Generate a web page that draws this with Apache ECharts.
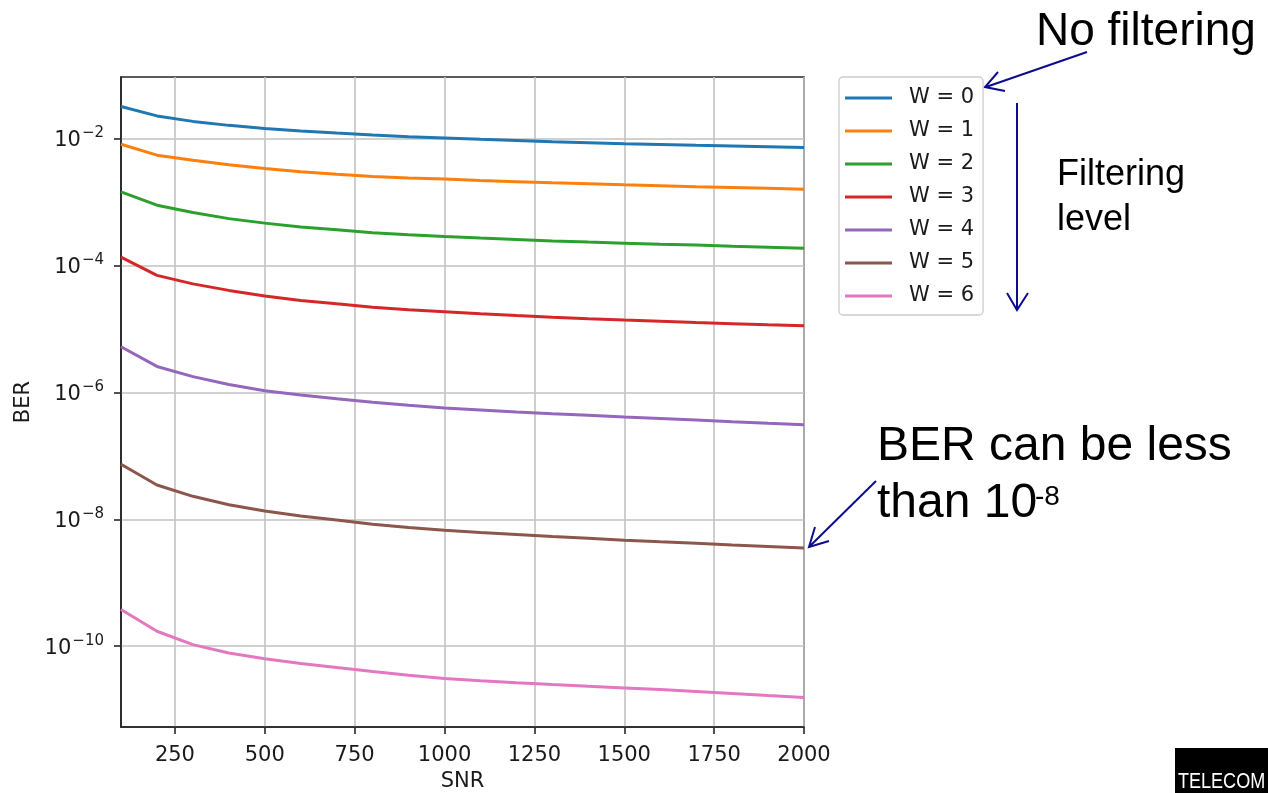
<!DOCTYPE html>
<html>
<head>
<meta charset="utf-8">
<script src="https://cdn.jsdelivr.net/npm/echarts@6/dist/echarts.min.js"></script>
<style>
html,body{margin:0;padding:0;background:#fff;}
#chart{width:1268px;height:793px;}
</style>
</head>
<body>
<div id="chart"></div>
<script>
const snr = [100,200,300,400,500,600,700,800,900,1000,1100,1200,1300,1400,1500,1600,1700,1800,1900,2000];
const seriesNames = ['W = 0','W = 1','W = 2','W = 3','W = 4','W = 5','W = 6'];
const w0 = [3.2e-2,2.27e-2,1.86e-2,1.61e-2,1.44e-2,1.31e-2,1.22e-2,1.14e-2,1.07e-2,1.02e-2,9.7e-3,9.3e-3,8.9e-3,8.6e-3,8.3e-3,8.05e-3,7.8e-3,7.6e-3,7.4e-3,7.2e-3];
const w1 = [8.1e-3,5.46e-3,4.55e-3,3.86e-3,3.37e-3,3.0e-3,2.74e-3,2.52e-3,2.39e-3,2.29e-3,2.18e-3,2.09e-3,2.0e-3,1.93e-3,1.86e-3,1.80e-3,1.74e-3,1.69e-3,1.64e-3,1.59e-3];
const w2 = [1.44e-3,8.9e-4,6.8e-4,5.46e-4,4.64e-4,4.04e-4,3.64e-4,3.26e-4,3.03e-4,2.86e-4,2.71e-4,2.57e-4,2.43e-4,2.33e-4,2.24e-4,2.16e-4,2.09e-4,2.01e-4,1.94e-4,1.87e-4];
const w3 = [1.35e-4,6.96e-5,5.12e-5,4.04e-5,3.29e-5,2.81e-5,2.48e-5,2.20e-5,2.01e-5,1.87e-5,1.73e-5,1.62e-5,1.53e-5,1.45e-5,1.38e-5,1.32e-5,1.26e-5,1.21e-5,1.16e-5,1.12e-5];
const w4 = [5.22e-6,2.56e-6,1.77e-6,1.33e-6,1.06e-6,9.06e-7,7.92e-7,6.96e-7,6.24e-7,5.66e-7,5.26e-7,4.89e-7,4.6e-7,4.34e-7,4.08e-7,3.87e-7,3.66e-7,3.45e-7,3.26e-7,3.09e-7];
const w5 = [7.35e-8,3.47e-8,2.3e-8,1.69e-8,1.35e-8,1.13e-8,9.75e-9,8.34e-9,7.39e-9,6.71e-9,6.18e-9,5.74e-9,5.34e-9,5.02e-9,4.67e-9,4.41e-9,4.19e-9,3.94e-9,3.73e-9,3.53e-9];
const w6 = [3.79e-10,1.72e-10,1.06e-10,7.82e-11,6.34e-11,5.35e-11,4.62e-11,4.0e-11,3.49e-11,3.1e-11,2.86e-11,2.66e-11,2.49e-11,2.34e-11,2.2e-11,2.07e-11,1.94e-11,1.8e-11,1.67e-11,1.56e-11];
const allSeries = [w0,w1,w2,w3,w4,w5,w6];
const colors = ['#1f77b4','#ff7f0e','#2ca02c','#d62728','#9467bd','#8c564b','#e377c2'];
const xTicks = [250,500,750,1000,1250,1500,1750,2000];
const yTicks = [1e-10,1e-8,1e-6,1e-4,1e-2];

const FONT = 'DejaVu Sans';
const TXT = '#1a1a1a';
const ARROW = '#0d0d8c';

const chart = echarts.init(document.getElementById('chart'), null, {renderer:'canvas'});

const option = {
  backgroundColor:'#ffffff',
  animation:false,
  color: colors,
  grid:{left:121, right:464, top:77, bottom:66, containLabel:false, outerBoundsMode:'none',
        show:true, borderColor:'#262626', borderWidth:1.6, backgroundColor:'transparent'},
  legend:{
    orient:'vertical', left:839, top:77,
    data: seriesNames,
    icon:'rect', itemWidth:47, itemHeight:3, itemGap:9,
    padding:[9,9,7,6],
    backgroundColor:'#ffffff', borderColor:'#cccccc', borderWidth:1.3, borderRadius:4,
    textStyle:{fontFamily:FONT, fontSize:21, color:TXT, lineHeight:24, padding:[0,0,0,12]}
  },
  xAxis:{
    type:'value', min:100, max:2000,
    name:'SNR', nameLocation:'middle', nameGap:39,
    nameTextStyle:{fontFamily:FONT, fontSize:21, color:TXT},
    axisLine:{show:true, onZero:false, lineStyle:{color:'#262626', width:1.6}},
    axisTick:{show:true, length:7, inside:false, customValues:xTicks, lineStyle:{color:'#262626', width:1.6}},
    axisLabel:{fontFamily:FONT, fontSize:21, color:TXT, margin:18, customValues:xTicks,
      formatter:function(v){ return String(Math.round(v)); }},
    splitLine:{show:true, lineStyle:{color:'#c2c2c2', width:1.6}}
  },
  yAxis:{
    type:'log', logBase:10, min:5.33e-12, max:0.0931,
    name:'BER', nameLocation:'middle', nameGap:85, nameRotate:90,
    nameTextStyle:{fontFamily:FONT, fontSize:21, color:TXT},
    axisLine:{show:true, lineStyle:{color:'#262626', width:1.6}},
    axisTick:{show:true, length:7, inside:false, customValues:yTicks, lineStyle:{color:'#262626', width:1.6}},
    axisLabel:{margin:17, customValues:yTicks,
      formatter:function(v){
        const e = Math.round(Math.log10(v));
        return '{b|10}{s|\u2212' + (-e) + '}';
      },
      rich:{
        b:{fontFamily:FONT, fontSize:21, color:TXT, lineHeight:25, verticalAlign:'bottom'},
        s:{fontFamily:FONT, fontSize:15, color:TXT, lineHeight:15, padding:[0,0,10,1], verticalAlign:'bottom'}
      }
    },
    splitLine:{show:true, lineStyle:{color:'#c2c2c2', width:1.6}}
  },
  series: allSeries.map(function(arr, i){
    return {
      name: seriesNames[i], type:'line', symbol:'none', smooth:false,
      data: snr.map(function(x, j){ return [x, arr[j]]; }),
      lineStyle:{width:3, color:colors[i]}, itemStyle:{color:colors[i]},
      z: 3
    };
  }),
  graphic:[
    {type:'text', x:1036, y:32, style:{text:'No filtering', font:'46px "Liberation Sans"', fill:'#000', textAlign:'left', textVerticalAlign:'middle'}},
    {type:'line', shape:{x1:1087, y1:52, x2:986, y2:87}, style:{stroke:ARROW, lineWidth:2}},
    {type:'polyline', shape:{points:[[998,72],[985,87],[1005,91]]}, style:{stroke:ARROW, lineWidth:2, fill:null}},
    {type:'line', shape:{x1:1017, y1:103, x2:1017, y2:309}, style:{stroke:ARROW, lineWidth:2}},
    {type:'polyline', shape:{points:[[1007,293],[1017,310],[1028,293]]}, style:{stroke:ARROW, lineWidth:2, fill:null}},
    {type:'text', x:1057, y:175, style:{text:'Filtering', font:'36px "Liberation Sans"', fill:'#000', textAlign:'left', textVerticalAlign:'middle'}},
    {type:'text', x:1057, y:220, style:{text:'level', font:'36px "Liberation Sans"', fill:'#000', textAlign:'left', textVerticalAlign:'middle'}},
    {type:'text', x:877, y:447, style:{text:'BER can be less', font:'48px "Liberation Sans"', fill:'#000', textAlign:'left', textVerticalAlign:'middle'}},
    {type:'text', x:877, y:504, style:{text:'than 10', font:'48px "Liberation Sans"', fill:'#000', textAlign:'left', textVerticalAlign:'middle'}},
    {type:'text', x:1035, y:497, style:{text:'-8', font:'28px "Liberation Sans"', fill:'#000', textAlign:'left', textVerticalAlign:'middle'}},
    {type:'line', shape:{x1:876, y1:481, x2:810, y2:546}, style:{stroke:ARROW, lineWidth:2}},
    {type:'polyline', shape:{points:[[815,527],[809,547],[829,541]]}, style:{stroke:ARROW, lineWidth:2, fill:null}},
    {type:'rect', shape:{x:1175, y:748, width:93, height:45}, style:{fill:'#000'}, z:10},
    {type:'text', x:1178, y:782, scaleX:0.82, scaleY:1, z:11, style:{text:'TELECOM', font:'22px "Liberation Sans"', fill:'#ffffff', textAlign:'left', textVerticalAlign:'middle'}}
  ]
};
chart.setOption(option);
</script>
</body>
</html>
